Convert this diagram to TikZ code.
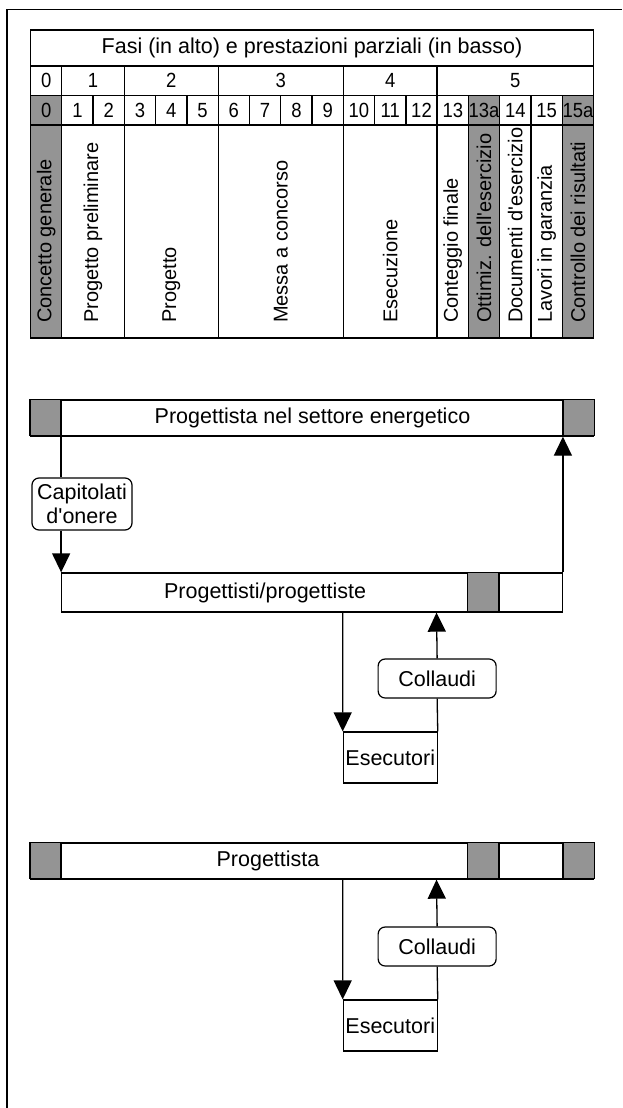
\documentclass[tikz,border=0pt]{standalone}
\usepackage{fontspec}
\setmainfont{Liberation Sans}[Ligatures=TeXOff]
\newfontfamily\numfont{Liberation Sans}[Ligatures=TeXOff,FakeStretch=0.9]
\usetikzlibrary{arrows.meta,calc}
\begin{document}
\begin{tikzpicture}[x=1pt,y=-1pt,
  txt/.style={font=\fontsize{21.5}{24}\selectfont, inner sep=0pt},
  celltxt/.style={font=\fontsize{20}{22}\selectfont, inner sep=0pt},
  numtxt/.style={font=\numfont\fontsize{20.5}{22}\selectfont, inner sep=0pt},
  rule/.style={line width=1.3pt},
  shade/.style={fill=black!42},
  vtext/.style={celltxt, rotate=90, anchor=west},
  flow/.style={line width=1.3pt, -{Triangle[length=19pt,width=18pt]}},
  link/.style={line width=1.3pt},
  tag/.style={draw, line width=1.2pt, rounded corners=7pt, fill=white, txt, align=center},
  bar/.style={draw, line width=1.3pt, inner sep=0pt},
  plainbox/.style={draw, line width=1.2pt, fill=white, txt, inner sep=0pt},
]
\useasboundingbox (0,0) rectangle (622,1108);

% outer frame: left and top rules only
\draw[line width=1.6pt] (7,1108) -- (7,9.5) -- (622,9.5);

% ---------- table of phases ----------
\def\cw{31.28}
\def\xl{30.5}
% shaded columns 0, 13a, 15a
\foreach \c in {0,14,17}
  \fill[shade] ({\xl+\cw*\c},95.5) rectangle ({\xl+\cw*(\c+1)},338);
\draw[rule] (\xl,30) rectangle ({\xl+\cw*18},338);
\foreach \y in {66,95.5,125}
  \draw[rule] (\xl,\y) -- ({\xl+\cw*18},\y);
% phase row dividers
\foreach \c in {1,3,6,10,13}
  \draw[rule] ({\xl+\cw*\c},66) -- ({\xl+\cw*\c},95.5);
% number row dividers
\foreach \c in {1,...,17}
  \draw[rule] ({\xl+\cw*\c},95.5) -- ({\xl+\cw*\c},125);
% lower cell dividers
\foreach \c in {1,3,6,10,13,14,15,16,17}
  \draw[rule] ({\xl+\cw*\c},125) -- ({\xl+\cw*\c},338);

\node[txt] (title) at (312,48) {Fasi (in alto) e prestazioni parziali (in basso)};

% phases
\node[numtxt] (f0) at ({\xl+\cw*0.5},80.75) {0};
\node[numtxt] (f1) at ({\xl+\cw*2},80.75) {1};
\node[numtxt] (f2) at ({\xl+\cw*4.5},80.75) {2};
\node[numtxt] (f3) at ({\xl+\cw*8},80.75) {3};
\node[numtxt] (f4) at ({\xl+\cw*11.5},80.75) {4};
\node[numtxt] (f5) at ({\xl+\cw*15.5},80.75) {5};

% partial services
\foreach \t [count=\i from 0] in {0,1,2,3,4,5,6,7,8,9,10,11,12,13,13a,14,15,15a}
  \node[numtxt] (n\i) at ({\xl+\cw*(\i+0.5)},110.25) {\t};

% vertical labels
\node[vtext] (v0)  at ({\xl+\cw*0.5},323) {Concetto generale};
\node[vtext] (v1)  at ({\xl+\cw*2},323) {Progetto preliminare};
\node[vtext] (v2)  at ({\xl+\cw*4.5},323) {Progetto};
\node[vtext] (v3)  at ({\xl+\cw*8},323) {Messa a concorso};
\node[vtext] (v4)  at ({\xl+\cw*11.5},323) {Esecuzione};
\node[vtext] (v5)  at ({\xl+\cw*13.5},323) {Conteggio finale};
\node[vtext] (v6)  at ({\xl+\cw*14.5},323) {Ottimiz. dell'esercizio};
\node[vtext] (v7)  at ({\xl+\cw*15.5},323) {Documenti d'esercizio};
\node[vtext] (v8)  at ({\xl+\cw*16.5},323) {Lavori in garanzia};
\node[vtext] (v9)  at ({\xl+\cw*17.5},323) {Controllo dei risultati};

% ---------- first scheme ----------
\node[bar, minimum width=563.04pt, minimum height=36pt] (pe) at (312.02,418) {};
\filldraw[shade, draw=black, line width=1.3pt] (pe.north west) rectangle ++(\cw,36);
\filldraw[shade, draw=black, line width=1.3pt] (pe.north east) rectangle ++(-\cw,36);
\node[txt] (pet) at (312.5,418) {Progettista nel settore energetico};

\node[bar, minimum width=500.48pt, minimum height=39pt] (pp) at (312.02,592.5) {};
\filldraw[shade, draw=black, line width=1.3pt] ($(pp.north west)+(406.64,0)$) rectangle ++(\cw,39);
\node[txt] (ppt) at (265.1,592.5) {Progettisti/progettiste};

\node[tag, minimum width=100pt, minimum height=52pt, inner sep=0pt] (cap) at (82,504) {Capitolati\\d'onere};
\draw[link] ($(pe.south west)+(\cw,0)$) -- (cap.north -| pp.north west);
\draw[flow] (cap.south -| pp.north west) -- (pp.north west);
\draw[flow] (pp.north east) -- ($(pe.south east)+(-\cw,0)$);

\node[plainbox, minimum width=93.84pt, minimum height=51pt] (es) at (390.22,757.5) {Esecutori};
\node[tag, minimum width=118pt, minimum height=39pt, inner sep=0pt] (col) at (437.14,678.5) {Collaudi};
\draw[flow] ($(pp.south west)+(281.52,0)$) -- (es.north west);
\draw[link] (es.north east) -- (col.south);
\draw[flow] (col.north) -- ($(pp.south west)+(375.36,0)$);

% ---------- second scheme ----------
\node[bar, minimum width=563.04pt, minimum height=36pt] (pj) at (312.02,861) {};
\filldraw[shade, draw=black, line width=1.3pt] (pj.north west) rectangle ++(\cw,36);
\filldraw[shade, draw=black, line width=1.3pt] ($(pj.north west)+(\cw*14,0)$) rectangle ++(\cw,36);
\filldraw[shade, draw=black, line width=1.3pt] (pj.north east) rectangle ++(-\cw,36);
\node[txt] (pjt) at (268,861) {Progettista};

\node[plainbox, minimum width=93.84pt, minimum height=51pt] (es2) at (390.22,1025.5) {Esecutori};
\node[tag, minimum width=118pt, minimum height=39pt, inner sep=0pt] (col2) at (437.14,946.5) {Collaudi};
\draw[flow] ($(pj.south west)+(\cw*10,0)$) -- (es2.north west);
\draw[link] (es2.north east) -- (col2.south);
\draw[flow] (col2.north) -- ($(pj.south west)+(\cw*13,0)$);
\end{tikzpicture}
\end{document}
